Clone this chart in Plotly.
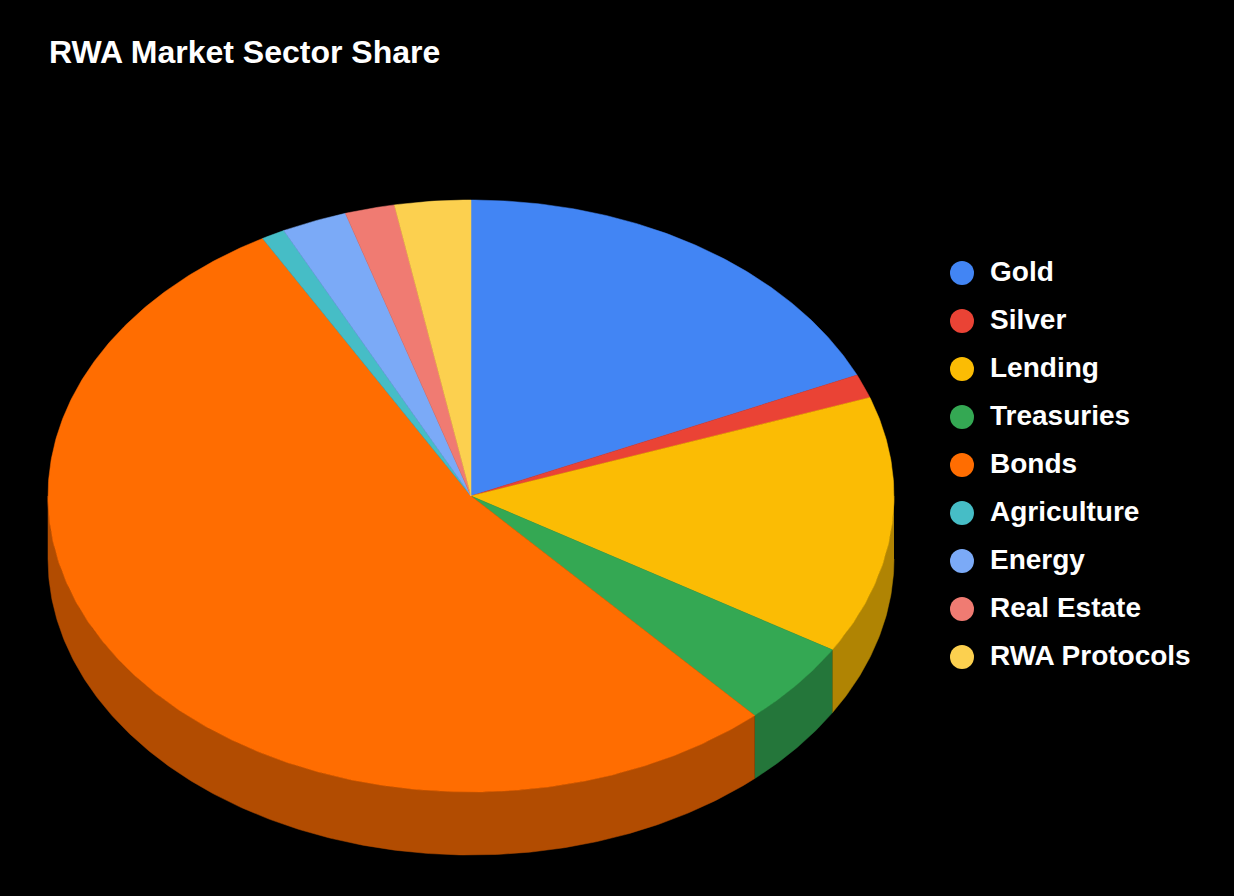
import numpy as np
import plotly.graph_objects as go

TITLE = "RWA Market Sector Share"
categories = ["Gold", "Silver", "Lending", "Treasuries", "Bonds",
              "Agriculture", "Energy", "Real Estate", "RWA Protocols"]
values = [18.3, 1.3, 14.1, 4.6, 53.5, 0.9, 2.5, 1.9, 2.9]
colors = ["#4285F4", "#EA4335", "#FBBC04", "#34A853", "#FF6D01",
          "#46BDC6", "#7BAAF7", "#F07B72", "#FCD04F"]

CX, CY, RX, RY, DEPTH = 471.0, 496.0, 423.0, 296.0, 63.0
W, H = 1234, 896


def darker(hexcolor, f=0.7):
    r, g, b = (int(hexcolor[i:i + 2], 16) for i in (1, 3, 5))
    return f"rgb({round(r * f)},{round(g * f)},{round(b * f)})"


def arc(a0, a1):
    n = max(2, int(abs(a1 - a0) * 180 / np.pi * 2))
    t = np.linspace(a0, a1, n)
    return CX + RX * np.sin(t), CY - RY * np.cos(t)


total = sum(values)
edges = np.concatenate([[0], np.cumsum(values)]) / total * 2 * np.pi

fig = go.Figure()

# Outer wall: only the part of the rim on the lower half of the ellipse
for i, c in enumerate(colors):
    a0, a1 = max(edges[i], np.pi / 2), min(edges[i + 1], 3 * np.pi / 2)
    if a1 <= a0:
        continue
    x, y = arc(a0, a1)
    fig.add_trace(go.Scatter(
        x=np.concatenate([x, x[::-1]]),
        y=np.concatenate([y, y[::-1] + DEPTH]),
        mode="lines", fill="toself", fillcolor=darker(c),
        line=dict(color=darker(c), width=0.5),
        hoverinfo="skip", showlegend=False))

# Top face
for i, (name, c) in enumerate(zip(categories, colors)):
    x, y = arc(edges[i], edges[i + 1])
    fig.add_trace(go.Scatter(
        x=np.concatenate([[CX], x, [CX]]),
        y=np.concatenate([[CY], y, [CY]]),
        mode="lines", fill="toself", fillcolor=c,
        line=dict(color=c, width=0.5),
        name=name, hoveron="fills",
        text=f"{name}: {values[i]}%", hoverinfo="text", showlegend=False))

# Legend column
marker_y = [273 + 48 * i for i in range(len(categories))]
label_y = [274 + 48 * i for i in range(len(categories))]
fig.add_trace(go.Scatter(
    x=[962] * len(categories), y=marker_y, mode="markers",
    marker=dict(size=24, color=colors), hoverinfo="skip", showlegend=False))
fig.add_trace(go.Scatter(
    x=[990] * len(categories), y=label_y, mode="text", text=categories,
    textposition="middle right",
    textfont=dict(family="Liberation Sans", size=28, color="#ffffff", weight="bold"),
    hoverinfo="skip", showlegend=False))

fig.update_layout(
    width=W, height=H, autosize=False,
    margin=dict(l=0, r=0, t=0, b=0),
    paper_bgcolor="#000000", plot_bgcolor="#000000",
    xaxis=dict(range=[0, W], visible=False, fixedrange=True),
    yaxis=dict(range=[H, 0], visible=False, fixedrange=True),
    title=dict(text=f"<b>{TITLE}</b>", x=49 / W, xanchor="left", xref="paper",
               y=1 - 52 / H, yanchor="middle", yref="paper",
               font=dict(family="Liberation Sans", size=32, color="#ffffff")),
)
fig.write_html(
    "out.html", config={"displayModeBar": False},
    post_script="document.body.style.margin='0';document.body.style.background='#000';"
                "document.documentElement.style.overflow='hidden';",
)
